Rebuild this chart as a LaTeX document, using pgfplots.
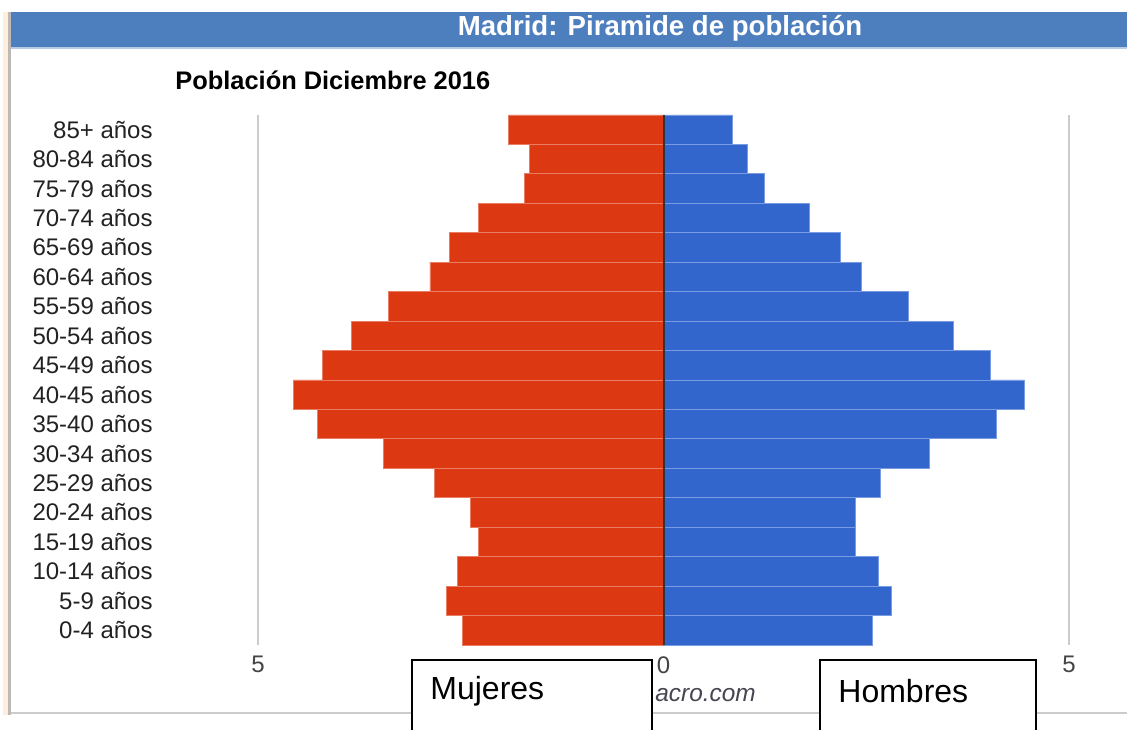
\documentclass[border=0pt]{standalone}
\usepackage{pgfplots}
\pgfplotsset{compat=1.18}
\usepackage{fontspec}
\setmainfont{Liberation Sans}
\definecolor{mred}{RGB}{220,57,18}
\definecolor{mblue}{RGB}{51,102,204}
\definecolor{redsep}{RGB}{232,125,100}
\definecolor{bluesep}{RGB}{120,155,225}
\definecolor{header}{RGB}{77,127,190}
\definecolor{headerline}{RGB}{185,203,228}
\definecolor{peach}{RGB}{253,238,222}
\definecolor{bordergray}{RGB}{190,185,180}
\definecolor{gridgray}{RGB}{204,204,204}
\definecolor{zeroline}{RGB}{51,51,51}
\definecolor{ticklab}{RGB}{68,68,68}
\definecolor{labdark}{RGB}{34,34,34}
\definecolor{wmark}{RGB}{70,70,80}
\begin{document}
\begin{tikzpicture}
\begin{scope}[x=0.5pt,y=-0.5pt]
\path[use as bounding box] (0,0) rectangle (1127,729);
\fill[white] (0,0) rectangle (1127,729);
\fill[peach] (3,12) rectangle (8,715);
\fill[bordergray] (8,12) rectangle (10.5,715);
\fill[header] (10.5,12) rectangle (1127,47.5);
\fill[headerline] (10.5,47.5) rectangle (1127,49);
\node[text=white, font=\bfseries\fontsize{13.8}{16}\selectfont] at (660,28) {Madrid: Piramide de población};
\node[anchor=west, inner sep=0pt, font=\bfseries\fontsize{12.7}{15}\selectfont] at (175,80) {Población Diciembre 2016};
\fill[gridgray] (10.5,712) rectangle (1127,714);
\end{scope}
\begin{axis}[
  scale only axis, width=405.5pt, height=265pt,
  at={(129pt,-322.5pt)}, anchor=south west,
  xmin=-5, xmax=5, ymin=-0.5, ymax=17.5,
  clip=false,
  axis line style={draw=none}, major tick length=0pt,
  xtick={-5,0,5}, xticklabels={5,0,5},
  ytick={0,...,17},
  yticklabels={0-4 años,5-9 años,10-14 años,15-19 años,20-24 años,25-29 años,30-34 años,35-40 años,40-45 años,45-49 años,50-54 años,55-59 años,60-64 años,65-69 años,70-74 años,75-79 años,80-84 años,85+ años},
  xmajorgrids, grid style={gridgray, line width=0.6pt},
  /pgf/number format/assume math mode=true,
  xticklabel style={font=\fontsize{12}{14}\selectfont, text=ticklab, inner sep=0pt, anchor=north, yshift=-5.5pt},
  yticklabel style={font=\fontsize{12}{14}\selectfont, text=labdark, inner sep=0pt, anchor=east, xshift=-52.5pt},
]
\addplot[xbar, bar width=14.722pt, bar shift=0pt, fill=mred, draw=redsep, line width=0.4pt] coordinates {
(-2.48,0) (-2.68,1) (-2.54,2) (-2.28,3) (-2.38,4) (-2.82,5) (-3.45,6) (-4.27,7) (-4.56,8)
(-4.20,9) (-3.85,10) (-3.39,11) (-2.88,12) (-2.64,13) (-2.28,14) (-1.71,15) (-1.65,16) (-1.91,17)};
\addplot[xbar, bar width=14.722pt, bar shift=0pt, fill=mblue, draw=bluesep, line width=0.4pt] coordinates {
(2.57,0) (2.81,1) (2.65,2) (2.36,3) (2.36,4) (2.67,5) (3.28,6) (4.10,7) (4.45,8)
(4.03,9) (3.58,10) (3.02,11) (2.44,12) (2.18,13) (1.80,14) (1.24,15) (1.03,16) (0.85,17)};
\draw[zeroline, line width=1pt] (axis cs:0,-0.5) -- (axis cs:0,17.5);
\end{axis}
\begin{scope}[x=0.5pt,y=-0.5pt]
\node[anchor=west, inner sep=0pt, text=wmark, font=\itshape\fontsize{12.2}{14}\selectfont] at (655,695) {acro.com};
\fill[white] (412,660) rectangle (652,729);
\draw[black, line width=0.8pt] (412,730) -- (412,660) -- (652,660) -- (652,730);
\node[anchor=west, inner sep=0pt, font=\fontsize{16}{19}\selectfont] at (430,691) {Mujeres};
\fill[white] (820,660) rectangle (1036,729);
\draw[black, line width=0.8pt] (820,730) -- (820,660) -- (1036,660) -- (1036,730);
\node[anchor=west, inner sep=0pt, font=\fontsize{16}{19}\selectfont] at (838,691) {Hombres};
\end{scope}
\end{tikzpicture}
\end{document}
